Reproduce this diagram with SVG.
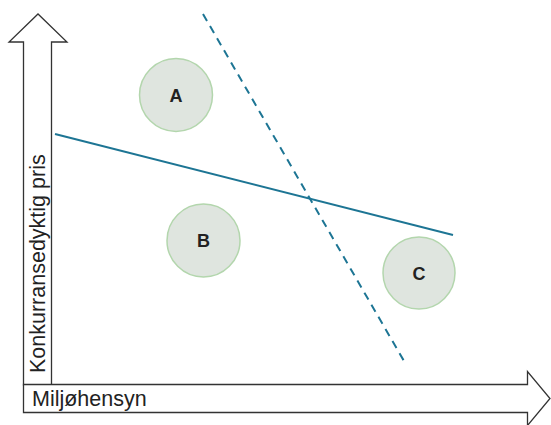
<svg xmlns="http://www.w3.org/2000/svg" width="551" height="425" viewBox="0 0 551 425">
<style>
.ax{fill:#fff;stroke:#333;stroke-width:1.3;stroke-linejoin:miter}
.axt{font-family:"Liberation Sans",Arial,sans-serif;font-size:21.5px;fill:#222}
.nd{fill:#dfe5df;stroke:#b3d6ad;stroke-width:1.5}
.nt{font-family:"Liberation Sans",Arial,sans-serif;font-size:18px;font-weight:bold;fill:#222;text-anchor:middle}
.ln{stroke:#1d7594;stroke-width:2;fill:none}
</style>
<rect width="551" height="425" fill="#fff"/>
<g id="y-axis">
<polygon class="ax" points="23.5,385 23.5,42 9,42 38,14 67,42 51.5,42 51.5,385"/>
<text class="axt" transform="translate(45,373) rotate(-90)">Konkurransedyktig pris</text>
</g>
<g id="x-axis">
<polygon class="ax" points="23.5,384.5 527.5,384.5 527.5,371.5 550,398.5 527.5,425.5 527.5,412.5 23.5,412.5"/>
<text class="axt" x="32" y="406">Miljøhensyn</text>
</g>
<g id="connectors">
<line class="ln" x1="55" y1="134" x2="453" y2="235"/>
<line class="ln" x1="203" y1="14" x2="404" y2="361" stroke-dasharray="8,6"/>
</g>
<g id="node-A">
<circle class="nd" cx="176" cy="95" r="36.5"/>
<text class="nt" x="176" y="101.5">A</text>
</g>
<g id="node-B">
<circle class="nd" cx="203.5" cy="240.5" r="36.5"/>
<text class="nt" x="203.5" y="247">B</text>
</g>
<g id="node-C">
<circle class="nd" cx="419" cy="273" r="36"/>
<text class="nt" x="419" y="279.5">C</text>
</g>
</svg>
